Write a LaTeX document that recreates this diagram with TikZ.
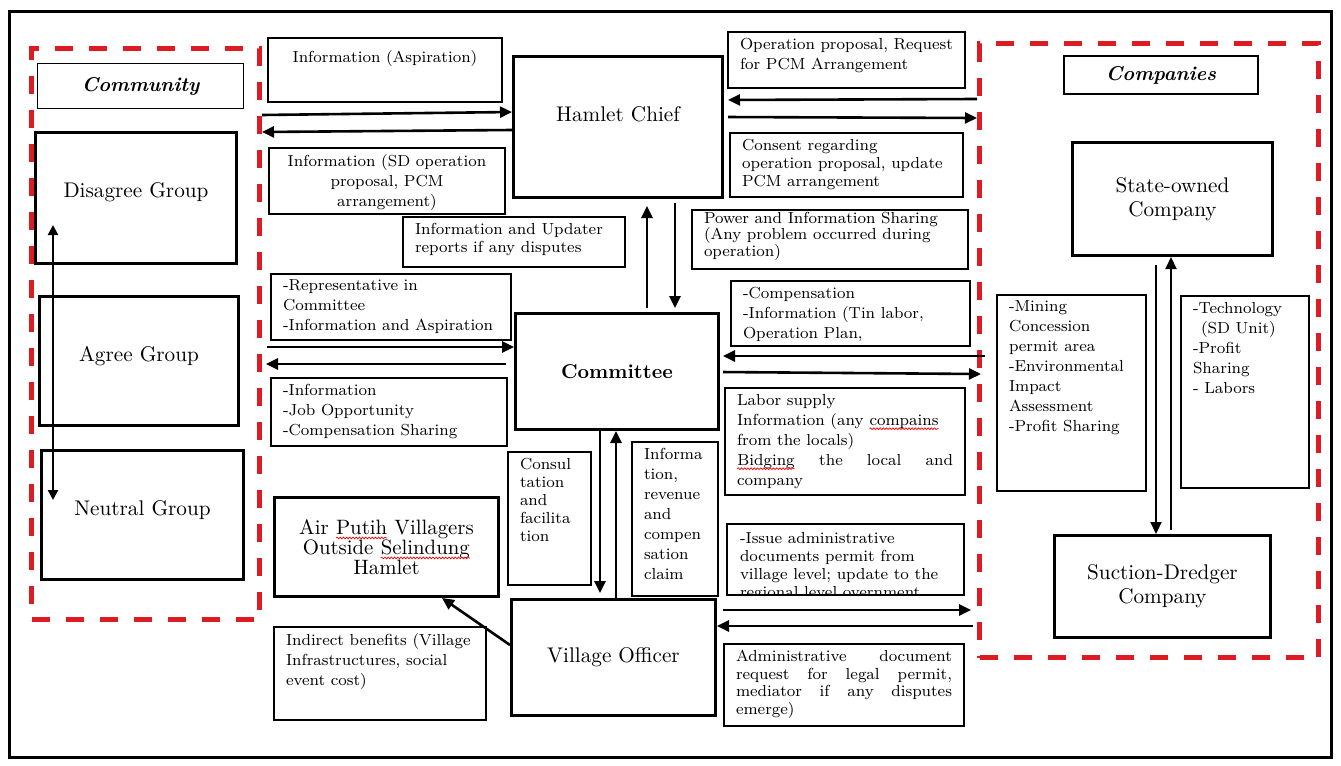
\documentclass[tikz,border=0pt]{standalone}
\usepackage{fontspec}
\usepackage{xcolor}
\usepackage{tikz}
\usetikzlibrary{arrows.meta,decorations.pathmorphing}
\definecolor{cRed}{RGB}{220,28,34}
\newcommand{\spellwave}[1]{\tikz[baseline=(w.base)]{\node[draw=none,anchor=base,inner sep=0,outer sep=0,
 minimum width=0pt,minimum height=0pt,text width=,text height=,text depth=,align=left] (w) {#1};
 \draw[red,line width=0.35pt,decorate,decoration={snake,amplitude=0.45pt,segment length=1.6pt}] ([yshift=-1.8pt]w.base west) -- ([yshift=-1.8pt]w.base east);}}
\newcommand{\boxtext}[3]{\parbox[c][#2][t]{#1}{#3}}

\begin{document}
\begin{tikzpicture}[x=0.5pt,y=-0.5pt]
\tikzset{
 area/.style={draw=cRed,line width=2.5pt,dash pattern=on 9pt off 8pt,anchor=north west,inner sep=0},
 grp/.style={draw,line width=1.5pt,anchor=north west,inner sep=0,align=center,font=\fontsize{10.6}{12}\selectfont},
 lbl/.style={draw,line width=1pt,anchor=north west,inner xsep=6pt,inner ysep=3pt,font=\fontsize{8}{10}\selectfont},
 headbox/.style={draw,anchor=north west,inner sep=0,font=\fontsize{10}{12}\selectfont\bfseries\itshape},
 txtup/.style={text height=7.5pt,text depth=#1},
 ar/.style={-{Triangle[length=6pt,width=5.5pt]},line width=1.3pt},
 dar/.style={{Triangle[length=5pt,width=5pt]}-{Triangle[length=5pt,width=5pt]},line width=1.1pt}
}
\path[fill=white,use as bounding box] (0,0) rectangle (1341,766);
\draw[line width=1.5pt] (9,11) rectangle (1331,757);

% community
\node[area,minimum width=114pt,minimum height=285.5pt] (comm) at (29,46) {};
\node[headbox,line width=0.6pt,minimum width=103pt,minimum height=22.5pt] (commlbl) at (37,63) {Community};
\node[grp,txtup=7.8pt,minimum width=100.5pt,minimum height=65.5pt] (disagree) at (34,131) {Disagree Group};
\node[grp,txtup=6.8pt,minimum width=99.5pt,minimum height=64.5pt] (agree) at (38,295) {Agree Group};
\node[grp,txtup=6.8pt,minimum width=101pt,minimum height=64.5pt] (neutral) at (40,449) {Neutral Group};
\coordinate (g1) at (53,225);
\coordinate (g2) at (53,500);
\draw[dar] (g1) -- (g2);

% companies
\node[area,minimum width=169.5pt,minimum height=307pt] (compy) at (977,41) {};
\node[headbox,line width=1pt,minimum width=97pt,minimum height=19pt] (complbl) at (1063,55) {Companies};
\node[grp,minimum width=100pt,minimum height=56.5pt] (state) at (1071,141) {State-owned\\Company};
\node[grp,minimum width=108pt,minimum height=51pt] (suction) at (1053,534) {Suction-Dredger\\Company};
\node[lbl] (mining) at (996,294) {\boxtext{62.5pt}{92pt}{-Mining\\Concession\\permit area\\-Environmental\\Impact\\Assessment\\-Profit Sharing}};
\node[lbl] (tech) at (1180,295) {\boxtext{52pt}{90pt}{-Technology\\\hspace*{4pt}(SD Unit)\\-Profit\\Sharing\\- Labors}};

% actors in the middle
\node[grp,txtup=12.8pt,minimum width=104.5pt,minimum height=70.5pt] (hamlet) at (512,55) {Hamlet Chief};
\node[grp,font=\fontsize{10}{12}\selectfont\bfseries,minimum width=101.5pt,minimum height=58pt] (committee) at (514,312) {Committee};
\node[grp,minimum width=102pt,minimum height=58pt] (village) at (510,598) {Village Officer};
\node[grp,font=\fontsize{10.4}{10}\selectfont,minimum width=112pt,minimum height=49.5pt] (airputih) at (273,496) {Air \spellwave{Putih} Villagers\\Outside \spellwave{Selindung}\\Hamlet};

% flow labels
\node[lbl] (asp) at (267,37) {\boxtext{105pt}{26pt}{\centering\vspace*{3pt}Information (Aspiration)}};
\node[lbl] (sdinfo) at (268,147) {\boxtext{106pt}{27pt}{\centering Information (SD operation\\proposal, PCM\\arrangement)}};
\node[lbl,font=\fontsize{8}{9}\selectfont] (upd) at (402,216) {\boxtext{99pt}{19pt}{Information and Updater\\reports if any disputes}};
\node[lbl] (rep) at (270,273) {\boxtext{108pt}{27pt}{-Representative in\\Committee\\-Information and Aspiration}};
\node[lbl] (job) at (270,377) {\boxtext{106pt}{28pt}{-Information\\-Job Opportunity\\-Compensation Sharing}};
\node[lbl,font=\fontsize{8}{9}\selectfont] (consul) at (507,451) {\boxtext{29.5pt}{60.5pt}{Consul\\tation\\and\\facilita\\tion}};
\node[lbl] (infrev) at (631,441) {\boxtext{31pt}{71pt}{Informa\\tion,\\revenue\\and\\compen\\sation\\claim}};
\node[lbl] (indirect) at (273,626) {\boxtext{94pt}{40.5pt}{Indirect benefits (Village\\Infrastructures, social\\event cost)}};
\node[lbl] (opprop) at (727,31) {\boxtext{106.5pt}{22pt}{Operation proposal, Request\\for PCM Arrangement}};
\node[lbl,font=\fontsize{8}{9}\selectfont] (consent) at (729,132) {\boxtext{104.5pt}{26pt}{Consent regarding\\operation proposal, update\\PCM arrangement}};
\node[lbl,inner ysep=1pt,font=\fontsize{8}{8.3}\selectfont] (power) at (691,209) {\boxtext{126pt}{27.5pt}{Power and Information Sharing\\(Any problem occurred during\\operation)}};
\node[lbl] (comp) at (730,280) {\boxtext{107.5pt}{26.5pt}{-Compensation\\-Information (Tin labor,\\Operation Plan,}};
\node[lbl] (labor) at (724,387) {\boxtext{108pt}{47.5pt}{Labor supply\\Information (any \spellwave{compains}\\from the locals)\\\spellwave{Bidging}\hfill the\hfill local\hfill and\\company}};
\node[lbl,inner sep=0,minimum width=118.5pt,minimum height=35.5pt,
 path picture={\node[draw=none,anchor=north west,inner xsep=6pt,inner ysep=3.5pt,font=\fontsize{8}{9}\selectfont]
 at (path picture bounding box.north west) {\parbox[t]{106.5pt}{-Issue administrative\\documents permit from\\village level; update to the\\regional level overnment}};}] (issue) at (726,523) {};
\node[lbl,font=\fontsize{8}{8.8}\selectfont] (admin) at (723,643) {\boxtext{108pt}{35pt}{Administrative\hfill document\\request\hfill for\hfill legal\hfill permit,\\mediator\hfill if\hfill any\hfill disputes\\emerge)}};

% connectors
\draw[ar] (comm.east |- 0,115) -- (hamlet.west |- 0,112);
\draw[ar] (hamlet.west |- 0,130) -- (comm.east |- 0,132);
\draw[ar,shorten >=2pt] (compy.west |- 0,99) -- (hamlet.east |- 0,100);
\draw[ar,shorten <=2pt] (hamlet.east |- 0,117) -- (compy.west |- 0,118);
\draw[ar,shorten <=2pt,shorten >=2pt] (hamlet.south -| 675,0) -- (committee.north -| 675,0);
\draw[ar,shorten <=2pt,shorten >=3.5pt] (committee.north -| 647,0) -- (hamlet.south -| 647,0);
\draw[ar,shorten <=2.5pt] (comm.east |- 0,347) -- (committee.west |- 0,347);
\draw[ar,shorten <=4pt,shorten >=2pt] (committee.west |- 0,364) -- (comm.east |- 0,364);
\draw[ar,shorten <=-4pt,shorten >=1.5pt] (compy.west |- 0,356) -- (committee.east |- 0,356);
\draw[ar,shorten <=1.5pt,shorten >=-2pt] (committee.east |- 0,372) -- (compy.west |- 0,374);
\draw[ar,shorten >=2.5pt] (committee.south -| 600,0) -- (village.north -| 600,0);
\draw[ar] (village.north -| 616,0) -- (committee.south -| 616,0);
\draw[ar] (village.west |- 0,645) -- (airputih.south -| 442,0);
\draw[ar,shorten <=3pt,shorten >=3pt] (village.east |- 0,610) -- (compy.west |- 0,610);
\draw[ar,shorten <=2pt] (compy.west |- 0,626) -- (village.east |- 0,626);
\draw[ar,line width=1.1pt,shorten <=4pt] (state.south -| 1156,0) -- (suction.north -| 1156,0);
\draw[ar,line width=1.1pt,shorten <=2pt] (suction.north -| 1171,0) -- (state.south -| 1171,0);
\end{tikzpicture}
\end{document}
